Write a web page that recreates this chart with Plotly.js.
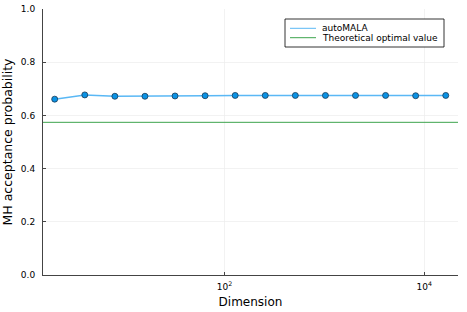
<!DOCTYPE html>
<html><head><meta charset="utf-8">
<script src="https://cdn.plot.ly/plotly-3.0.1.min.js"></script>
<style>html,body{margin:0;padding:0;background:#fff}</style>
</head><body><div id="chart" style="width:467px;height:312px"></div>
<script>
const dimensions = [2,4,8,16,32,64,128,256,512,1024,2048,4096,8192,16384];
const acceptance = [0.661,0.677,0.672,0.672,0.673,0.674,0.675,0.675,0.675,0.675,0.675,0.675,0.674,0.675];
const optimalValue = 0.574;
const optimalSpan = [1, 100000];
const seriesNames = ['autoMALA', 'Theoretical optimal value'];
const seriesColors = ['#5ab8f5', '#3da44d'];
const xTickVals = [100, 10000];
const xTickText = ['10<sup>2</sup>', '10<sup>4</sup>'];
const yTickVals = [0, 0.2, 0.4, 0.6, 0.8, 1.0];
const yTickText = ['0.0','0.2','0.4','0.6','0.8','1.0'];

const font = 'DejaVu Sans';
const W = 467, H = 312, M = {l: 43, r: 9, t: 9, b: 37};
const pw = W - M.l - M.r, ph = H - M.t - M.b;
const px = v => (v - M.l) / pw;          // pixel -> paper x
const py = v => (H - M.b - v) / ph;      // pixel -> paper y

const traces = [
  {x: dimensions, y: acceptance, type: 'scatter', mode: 'lines', name: seriesNames[0],
   line: {color: seriesColors[0], width: 1.5}, showlegend: false},
  {x: optimalSpan, y: optimalSpan.map(() => optimalValue), type: 'scatter', mode: 'lines',
   name: seriesNames[1], line: {color: seriesColors[1], width: 1}, showlegend: false},
  {x: dimensions, y: acceptance, type: 'scatter', mode: 'markers', showlegend: false,
   marker: {color: '#0a92e4', size: 6, line: {color: '#1b3a55', width: 0.8}}}
];

// legend (drawn manually to match compact spacing)
const legBox = {x0: 285, x1: 444, y0: 19, y1: 47};
const rows = [28.3, 37.7];
const shapes = [
  {type: 'rect', xref: 'paper', yref: 'paper', x0: px(legBox.x0), x1: px(legBox.x1),
   y0: py(legBox.y1), y1: py(legBox.y0), line: {color: '#000', width: 0.8}, fillcolor: '#fff', layer: 'above'}
];
const annotations = [];
seriesNames.forEach((n, i) => {
  shapes.push({type: 'line', xref: 'paper', yref: 'paper', x0: px(290), x1: px(316),
    y0: py(rows[i]), y1: py(rows[i]), line: {color: seriesColors[i], width: 1}, layer: 'above'});
  annotations.push({xref: 'paper', yref: 'paper', x: px(320), y: py(rows[i]), xanchor: 'left', yanchor: 'middle',
    text: n, showarrow: false, font: {family: font, size: 9, color: '#000'}});
});

const layout = {
  width: W, height: H, margin: M,
  paper_bgcolor: '#fff', plot_bgcolor: '#fff',
  font: {family: font, size: 9, color: '#000'},
  showlegend: false, shapes, annotations,
  xaxis: {type: 'log', range: [0.184, 4.337], tickmode: 'array', tickvals: xTickVals, ticktext: xTickText,
    ticks: 'inside', ticklen: 3, tickcolor: '#444', showgrid: true, gridcolor: '#ececec', gridwidth: 0.7,
    showline: true, linecolor: '#444', linewidth: 1, zeroline: false, ticklabelstandoff: 3,
    tickfont: {family: font, size: 9},
    title: {text: 'Dimension', font: {family: font, size: 12}, standoff: 6}},
  yaxis: {range: [0, 1], tickmode: 'array', tickvals: yTickVals, ticktext: yTickText,
    ticks: 'inside', ticklen: 3, tickcolor: '#444', showgrid: true, gridcolor: '#ececec', gridwidth: 0.7,
    showline: true, linecolor: '#444', linewidth: 1, zeroline: false, ticklabelstandoff: 5,
    tickfont: {family: font, size: 9},
    title: {text: 'MH acceptance probability', font: {family: font, size: 12.5}, standoff: 5}}
};
Plotly.newPlot('chart', traces, layout, {displayModeBar: false, staticPlot: true});
</script></body></html>
